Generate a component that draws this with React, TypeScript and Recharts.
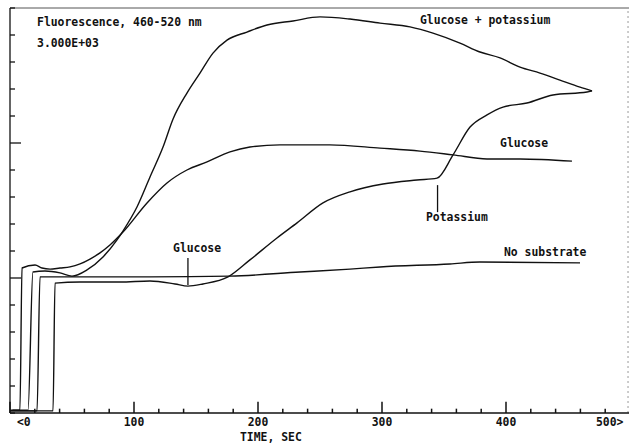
import React from 'react';
import { LineChart, Line, XAxis, YAxis, ReferenceLine, ReferenceDot } from 'recharts';

// time (s) and fluorescence (x 3.000E+03 per division)
const glucoseTime = [2, 8, 9.7, 20.2, 25.8, 32.3, 40.3, 48.4, 56.5, 64.5, 72.6, 80.6, 91.1, 110.5, 126.6, 142.7, 158.9, 177.4, 193.5, 217.7, 258, 298.4, 330.6, 357.3, 384.7, 411.3, 453.2];
const glucoseValue = [0.1, 0.1, 5.37, 5.48, 5.37, 5.33, 5.37, 5.41, 5.52, 5.7, 5.93, 6.22, 6.7, 7.78, 8.52, 9.0, 9.3, 9.67, 9.85, 9.93, 9.93, 9.81, 9.7, 9.56, 9.41, 9.41, 9.33];

const glucoseKTime = [0, 14.5, 18.5, 28.2, 40.3, 50, 62.1, 75, 86.3, 91.1, 102.4, 112.9, 123.4, 131.5, 142.7, 153.2, 163.7, 175, 191.1, 207.3, 228.2, 250, 274.2, 298.4, 322.6, 341.1, 362.9, 379, 395.2, 411.3, 427.4, 443.5, 459.7, 469.4];
const glucoseKValue = [0.1, 0.1, 5.22, 5.26, 5.19, 5.07, 5.3, 5.78, 6.41, 6.74, 7.63, 8.74, 9.85, 10.89, 11.85, 12.59, 13.33, 13.81, 14.11, 14.37, 14.52, 14.67, 14.59, 14.44, 14.3, 14.07, 13.7, 13.37, 13.15, 12.81, 12.59, 12.33, 12.07, 11.93];

const noSubstrateTime = [0, 21.8, 24.2, 72.6, 112.9, 177.4, 233.9, 274.2, 298.4, 354.8, 379, 459.7];
const noSubstrateValue = [0.08, 0.08, 5.04, 5.04, 5.04, 5.07, 5.22, 5.33, 5.41, 5.52, 5.59, 5.56];

const stepwiseTime = [0, 34.7, 36.3, 56.5, 88.7, 112.9, 133.1, 143.5, 155.6, 175.8, 193.5, 215.3, 231.5, 252.4, 274.2, 300.8, 328.2, 344.4, 357.3, 371, 384.7, 397.6, 416.9, 437.9, 465.3, 469.4];
const stepwiseValue = [0.08, 0.08, 4.81, 4.85, 4.85, 4.89, 4.78, 4.7, 4.78, 5.04, 5.67, 6.48, 7.04, 7.78, 8.19, 8.48, 8.63, 8.7, 9.56, 10.59, 11.04, 11.33, 11.48, 11.78, 11.89, 11.93];

const xTicks = [0, 20, 40, 60, 80, 100, 120, 140, 160, 180, 200, 220, 240, 260, 280, 300, 320, 340, 360, 380, 400, 420, 440, 460, 480, 500];
const yTicks = [0, 1, 2, 3, 4, 5, 6, 7, 8, 9, 10, 11, 12, 13, 14, 15];

// additions marked on the stepwise trace: [time, top, bottom]
const markers = [
  [143.5, 5.74, 4.74],
  [344.8, 8.44, 7.44],
];

// text labels: [text, time, value]
const labels: [string, number, number][] = [
  ['Fluorescence, 460-520 nm', 21.8, 14.48],
  ['3.000E+03', 21.8, 13.7],
  ['Glucose + potassium', 330.6, 14.56],
  ['Glucose', 395.2, 10.0],
  ['Potassium', 335.5, 7.26],
  ['No substrate', 398.4, 5.96],
  ['Glucose', 131.5, 6.11],
  ['TIME, SEC', 185.5, -0.89],
];

const zip = (t: number[], v: number[]) => t.map((x, i) => ({ t: x, v: v[i] }));

const INK = '#111';
const FONT = '"DejaVu Sans Mono", monospace';

const XTick = (props: any) => {
  const { x, y, payload } = props;
  const v = payload.value;
  if (v % 100 !== 0) return <g />;
  let label = String(v);
  let tx = x;
  let anchor = 'middle';
  if (v === 0) {
    label = '<0';
    tx = x + 7;
    anchor = 'start';
  } else if (v === 500) {
    label = '500>';
    tx = x - 34;
    anchor = 'start';
  }
  return (
    <text x={tx} y={y + 9} textAnchor={anchor} dominantBaseline="central" fontFamily={FONT} fontWeight={700} fontSize={11.4} fill={INK} stroke="none">
      {label}
    </text>
  );
};

const YTick = (props: any) => {
  const { x, y, payload } = props;
  const major = payload.value === 5 || payload.value === 10;
  return <path d={`M${x},${y}L${x + (major ? 11 : 5)},${y}`} stroke={INK} strokeWidth={1.3} fill="none" />;
};

const series = [
  zip(glucoseTime, glucoseValue),
  zip(glucoseKTime, glucoseKValue),
  zip(noSubstrateTime, noSubstrateValue),
  zip(stepwiseTime, stepwiseValue),
];

export default function App() {
  return (
    <div style={{ position: 'absolute', left: 0, top: 0, width: 629, height: 444, overflow: 'hidden', background: '#fff' }}>
      <LineChart width={640} height={444} margin={{ top: 8, right: 10, bottom: 1, left: 0 }}>
        <XAxis
          type="number"
          dataKey="t"
          domain={[0, 500]}
          ticks={xTicks}
          interval={0}
          height={30}
          tickSize={0}
          tickMargin={0}
          tickLine={false}
          tick={<XTick />}
          axisLine={{ stroke: INK, strokeWidth: 1.3 }}
          allowDuplicatedCategory={false}
        />
        <YAxis
          type="number"
          domain={[0, 15]}
          ticks={yTicks}
          interval={0}
          width={10}
          tickSize={0}
          tickMargin={0}
          tickLine={false}
          tick={<YTick />}
          axisLine={{ stroke: INK, strokeWidth: 1.3 }}
        />
        <ReferenceLine y={15} stroke="#555" strokeWidth={1} ifOverflow="visible" />
        <ReferenceLine x={498.4} stroke="#999" strokeWidth={1} strokeDasharray="2 3" ifOverflow="visible" />
        {xTicks.map((t) => (
          <ReferenceLine
            key={`xt${t}`}
            segment={[{ x: t, y: 0 }, { x: t, y: t % 100 === 0 ? 0.42 : 0.16 }]}
            stroke={INK}
            strokeWidth={1.5}
            ifOverflow="visible"
          />
        ))}
        {series.map((d, i) => (
          <Line
            key={i}
            data={d}
            dataKey="v"
            type="monotoneX"
            stroke={INK}
            strokeWidth={1.4}
            dot={false}
            isAnimationActive={false}
          />
        ))}
        {markers.map(([t, top, bottom], i) => (
          <ReferenceLine
            key={`m${i}`}
            segment={[{ x: t, y: top }, { x: t, y: bottom }]}
            stroke={INK}
            strokeWidth={1.3}
            ifOverflow="visible"
          />
        ))}
        {labels.map(([text, t, v], i) => (
          <ReferenceDot
            key={`l${i}`}
            x={t}
            y={v}
            r={0}
            stroke="none"
            fill="none"
            ifOverflow="visible"
            label={{ value: text, position: 'right', offset: 0, fill: INK, fontSize: 11.4, fontFamily: FONT, fontWeight: 700 }}
          />
        ))}
      </LineChart>
    </div>
  );
}
